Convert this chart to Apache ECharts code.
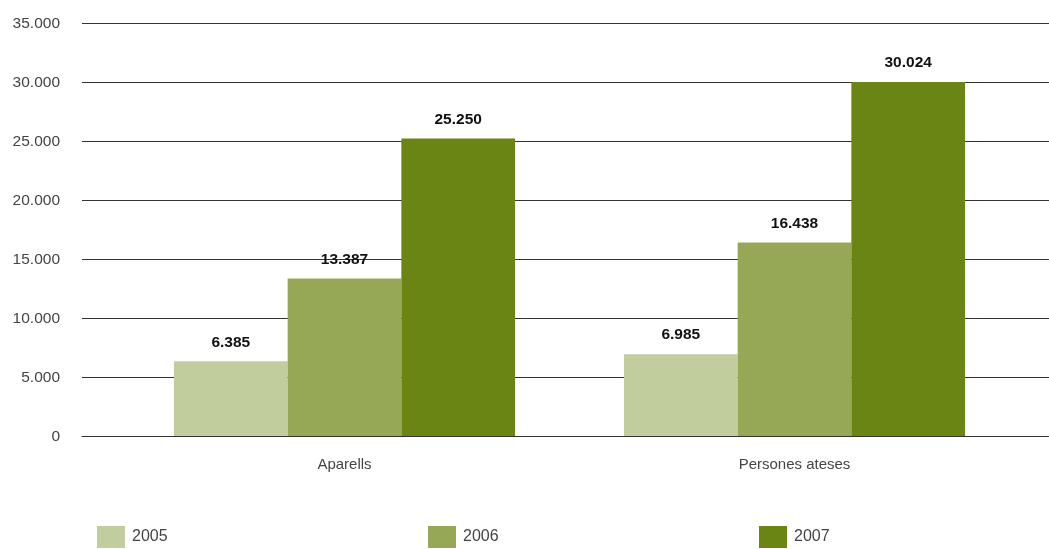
<!DOCTYPE html>
<html>
<head>
<meta charset="utf-8">
<script src="https://cdn.jsdelivr.net/npm/echarts@6/dist/echarts.min.js"></script>
<style>
html,body{margin:0;padding:0;background:#fff;}
#c{width:1049px;height:549px;}
</style>
</head>
<body>
<div id="c"></div>
<script>
var categories = ['Aparells', 'Persones ateses'];
var years = ['2005', '2006', '2007'];
var values2005 = [6385, 6985];
var values2006 = [13387, 16438];
var values2007 = [25250, 30024];
var colors = ['#c2cd9e', '#96a856', '#6b8514'];

function fmt(v) {
  return String(v).replace(/\B(?=(\d{3})+(?!\d))/g, '.');
}

var FONT = '"Liberation Sans", Arial, sans-serif';
var seriesData = [values2005, values2006, values2007];

var chart = echarts.init(document.getElementById('c'));
chart.setOption({
  animation: false,
  grid: [
    {left: 82, right: 0, top: 23.3, bottom: 112.3},
    {left: 119.5, right: 29.5, top: 23.3, bottom: 112.3}
  ],
  xAxis: [
    {gridIndex: 0, type: 'category', data: [''], z: 10,
     axisLine: {show: true, lineStyle: {color: '#333', width: 1.2}},
     axisTick: {show: false}, axisLabel: {show: false}, splitLine: {show: false}},
    {gridIndex: 1, type: 'category', data: categories,
     axisLine: {show: false}, axisTick: {show: false},
     axisLabel: {margin: 21, fontSize: 15, color: '#444', fontFamily: FONT}}
  ],
  yAxis: [
    {gridIndex: 0, type: 'value', min: 0, max: 35000, interval: 5000,
     axisLine: {show: false}, axisTick: {show: false},
     axisLabel: {margin: 22, fontSize: 15.5, color: '#444', fontFamily: FONT,
                 formatter: function (v) { return fmt(v); }},
     splitLine: {show: true, lineStyle: {color: '#333', width: 1.2}}},
    {gridIndex: 1, type: 'value', min: 0, max: 35000, interval: 5000, show: false,
     splitLine: {show: false}}
  ],
  legend: years.map(function (y, i) {
    return {
      data: [y], left: [97, 428, 759][i], top: 526, padding: 0,
      icon: 'rect', itemWidth: 28, itemHeight: 22,
      textStyle: {fontSize: 16, color: '#444', fontFamily: FONT, padding: [4, 0, 0, 2]}
    };
  }),
  series: years.map(function (y, i) {
    return {
      name: y, type: 'bar', xAxisIndex: 1, yAxisIndex: 1,
      data: seriesData[i],
      barGap: 0, barCategoryGap: '24.2%',
      itemStyle: {color: colors[i]},
      label: {show: true, position: 'top', distance: 11,
              fontSize: 15.5, fontWeight: 'bold', color: '#111', fontFamily: FONT,
              formatter: function (p) { return fmt(p.value); }}
    };
  })
});
</script>
</body>
</html>
